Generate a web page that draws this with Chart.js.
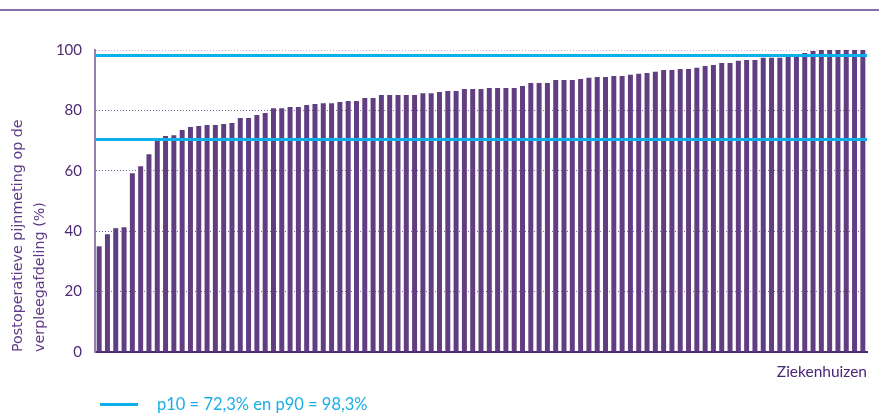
<!DOCTYPE html>
<html lang="nl">
<head>
<meta charset="utf-8">
<title>Postoperatieve pijnmeting op de verpleegafdeling</title>
<script src="https://cdn.jsdelivr.net/npm/chart.js@4.4.1/dist/chart.umd.min.js"></script>
<style>
    html, body { margin: 0; padding: 0; background: #fff; }
    #wrap { position: relative; width: 879px; height: 415px; overflow: hidden; }
    #topLine { position: absolute; left: 0; top: 9px; width: 879px; height: 2px; background: #8b6cab; }
    #chartBox { position: absolute; left: 0; top: 0; width: 879px; height: 415px; }
    #legend { position: absolute; left: 100px; top: 394px; height: 20px; display: flex; align-items: center;
              font-family: Lato, "Open Sans", sans-serif; font-size: 16.5px; color: #19aee6; }
    #legend .swatch { display: inline-block; width: 38px; height: 3px; background: #0db0ea; margin-right: 19px; }
</style>
</head>
<body>
<div id="wrap">
    <div id="topLine"></div>
    <div id="chartBox"><canvas id="pijnChart"></canvas></div>
    <div id="legend"><span class="swatch"></span><span>p10 = 72,3% en p90 = 98,3%</span></div>
</div>
<script>
// percentage per ziekenhuis, oplopend gesorteerd
const waarden = [
    35.0, 39.0, 41.0, 41.3, 59.2, 61.5, 65.5, 70.3, 71.5, 71.8,
    73.5, 74.5, 74.8, 75.2, 75.2, 75.5, 75.8, 77.5, 77.5, 78.5,
    79.1, 80.7, 80.7, 81.1, 81.1, 81.8, 82.1, 82.4, 82.4, 82.8,
    83.1, 83.1, 84.1, 84.1, 85.1, 85.1, 85.1, 85.1, 85.1, 85.7,
    85.7, 86.1, 86.4, 86.4, 87.1, 87.1, 87.1, 87.4, 87.4, 87.4,
    87.4, 88.1, 89.1, 89.1, 89.1, 90.1, 90.1, 90.1, 90.4, 90.8,
    91.1, 91.1, 91.4, 91.4, 91.8, 92.1, 92.4, 92.8, 93.4, 93.4,
    93.7, 93.7, 94.1, 94.7, 95.0, 95.7, 95.7, 96.4, 96.7, 96.7,
    97.4, 97.4, 97.4, 98.3, 98.3, 99.0, 99.7, 100, 100, 100,
    100, 100, 100
];
const ziekenhuizen = waarden.map((_, i) => 'Ziekenhuis ' + (i + 1));

// referentielijnen (p10 / p90) zoals getekend
const p10 = 70.4;
const p90 = 98.4;

const yTicks = [0, 20, 40, 60, 80, 100];

const paars = '#613e82';
const blauw = '#0db0ea';

// horizontale referentielijnen over de volle breedte van het plotvlak
const refLines = {
    id: 'refLines',
    afterDatasetsDraw(chart) {
        const { ctx, chartArea, scales } = chart;
        ctx.save();
        ctx.strokeStyle = blauw;
        ctx.lineWidth = 3;
        [p10, p90].forEach(v => {
            const y = Math.round(scales.y.getPixelForValue(v)) + 0.5;
            ctx.beginPath();
            ctx.moveTo(chartArea.left, y);
            ctx.lineTo(chartArea.right, y);
            ctx.stroke();
        });
        ctx.restore();
    }
};

const ctx = document.getElementById('pijnChart');
new Chart(ctx, {
    type: 'bar',
    data: {
        labels: ziekenhuizen,
        datasets: [{
            label: 'Postoperatieve pijnmeting',
            data: waarden,
            backgroundColor: paars,
            barPercentage: 0.6,
            categoryPercentage: 1
        }]
    },
    options: {
        responsive: true,
        maintainAspectRatio: false,
        animation: false,
        layout: { padding: { top: 50, right: 12, left: 0, bottom: 0 } },
        plugins: {
            legend: { display: false },
            tooltip: { enabled: false }
        },
        scales: {
            x: {
                afterFit: s => { s.height = 63; },
                grid: { display: false },
                border: { color: '#4a2770', width: 2 },
                ticks: { display: false },
                title: {
                    display: true,
                    text: 'Ziekenhuizen',
                    align: 'end',
                    color: '#4a2577',
                    font: { family: 'Lato, "Open Sans", sans-serif', size: 15.5, lineHeight: '18px' },
                    padding: { top: 0, bottom: 34 }
                }
            },
            y: {
                min: 0,
                max: 100,
                afterFit: s => { s.width = 95; },
                afterBuildTicks: s => { s.ticks = yTicks.map(v => ({ value: v })); },
                grid: {
                    drawTicks: false,
                    color: c => c.tick && c.tick.value === 100 ? 'rgba(150,125,180,0.6)' : 'rgba(95,60,130,0.8)',
                    lineWidth: 1
                },
                // in v4 geldt border.dash voor de rasterlijnen; de aslijn zelf blijft doorgetrokken
                border: { color: '#9580b0', width: 2, dash: [1, 2] },
                ticks: {
                    padding: 13,
                    color: '#4e2a74',
                    font: { family: 'Lato, "Open Sans", sans-serif', size: 15 }
                },
                title: {
                    display: true,
                    text: ['Postoperatieve pijnmeting op de', 'verpleegafdeling (%)'],
                    align: 'start',
                    color: '#5e3a86',
                    font: { family: '"DejaVu Sans", Verdana, sans-serif', size: 14.3, lineHeight: '22px' },
                    padding: { top: 7, bottom: 0 }
                }
            }
        }
    },
    plugins: [refLines]
});
</script>
</body>
</html>
